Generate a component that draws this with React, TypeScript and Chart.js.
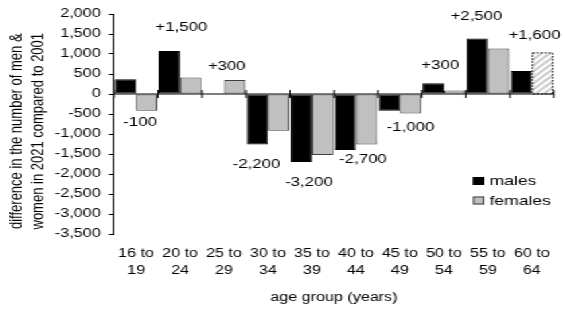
import React, { useEffect, useRef } from 'react';
import { Chart, registerables } from 'chart.js';

Chart.register(...registerables);

// ---- data ----
const categories: string[][] = [
  ['16 to', '19'], ['20 to', '24'], ['25 to', '29'], ['30 to', '34'], ['35 to', '39'],
  ['40 to', '44'], ['45 to', '49'], ['50 to', '54'], ['55 to', '59'], ['60 to', '64'],
];
const males = [370, 1075, 0, -1260, -1700, -1400, -420, 270, 1390, 575];
const females = [-420, 410, 350, -920, -1525, -1260, -485, 90, 1140, 1040];
const projectedFemaleIndex = 9;

const yMin = -3500;
const yMax = 2000;
const yStep = 500;

const changeLabels = ['-100', '+1,500', '+300', '-2,200', '-3,200', '-2,700', '-1,000', '+300', '+2,500', '+1,600'];
const changeLabelCategory = [0.09, 1.03, 2.06, 2.74, 3.93, 5.16, 6.24, 6.92, 7.74, 9.06];
const changeLabelValue = [-725, 1662, 675, -1767, -2225, -1650, -837, 712, 1925, 1450];

const PAD = '\u00a0'.repeat(4);
const yTitle = ['difference in the number of men &' + PAD, 'women in 2021 compared to 2001' + PAD];
const xTitle = 'age group (years)';
const legendItems = ['males', 'females'];

// ---- style ----
const FONT = '"Liberation Sans", Arial, Helvetica, sans-serif';
const LOGICAL_W = 420;
const H = 310;
const STRETCH = 565 / LOGICAL_W;
const MALE_FILL = '#000000';
const FEMALE_FILL = '#c0c0c0';
const FEMALE_BORDER = '#404040';

function makeHatch(): CanvasPattern | string {
  const s = 6;
  const c = document.createElement('canvas');
  c.width = s;
  c.height = s;
  const g = c.getContext('2d');
  if (!g) return '#dddddd';
  g.fillStyle = '#ffffff';
  g.fillRect(0, 0, s, s);
  g.strokeStyle = '#cdcdcd';
  g.lineWidth = 2.2;
  g.beginPath();
  g.moveTo(-1, s + 1); g.lineTo(s + 1, -1);
  g.moveTo(-1, 1); g.lineTo(1, -1);
  g.moveTo(s - 1, s + 1); g.lineTo(s + 1, s - 1);
  g.stroke();
  return g.createPattern(c, 'repeat') || '#dddddd';
}

const overlayPlugin = {
  id: 'overlay',
  afterDatasetsDraw(chart: any) {
    const { ctx, scales } = chart;
    const x = scales.x;
    const y = scales.y;
    ctx.save();

    // zero line + category boundary ticks crossing it
    const y0 = y.getPixelForValue(0);
    ctx.strokeStyle = '#000';
    ctx.lineWidth = 1;
    ctx.beginPath();
    ctx.moveTo(chart.chartArea.left, y0);
    ctx.lineTo(chart.chartArea.right, y0);
    ctx.stroke();
    for (let i = 0; i <= categories.length; i++) {
      const px = x.getPixelForValue(i - 0.5);
      ctx.beginPath();
      ctx.moveTo(px, y0 - 4);
      ctx.lineTo(px, y0 + 4);
      ctx.stroke();
    }

    // dotted outline of projected bar
    const el: any = chart.getDatasetMeta(1).data[projectedFemaleIndex];
    if (el) {
      const p = el.getProps(['x', 'y', 'base', 'width'], true);
      const l = p.x - p.width / 2;
      const top = Math.min(p.y, p.base);
      const h = Math.abs(p.base - p.y);
      ctx.setLineDash([1.5, 1.5]);
      ctx.strokeStyle = '#000';
      ctx.strokeRect(l + 0.5, top + 0.5, p.width - 1, h);
      ctx.setLineDash([]);
    }

    // change annotations
    ctx.fillStyle = '#000';
    ctx.font = `12.5px ${FONT}`;
    ctx.textAlign = 'center';
    ctx.textBaseline = 'middle';
    changeLabels.forEach((t, i) => {
      ctx.fillText(t, x.getPixelForValue(changeLabelCategory[i]), y.getPixelForValue(changeLabelValue[i]));
    });

    // legend
    const lx = 351.5;
    const ly = [181, 200.5];
    ctx.font = `13px ${FONT}`;
    ctx.textAlign = 'left';
    legendItems.forEach((t, i) => {
      ctx.fillStyle = i === 0 ? MALE_FILL : FEMALE_FILL;
      ctx.strokeStyle = i === 0 ? '#000' : FEMALE_BORDER;
      ctx.fillRect(lx, ly[i] - 4, 8.5, 8);
      ctx.strokeRect(lx + 0.5, ly[i] - 3.5, 7.5, 7);
      ctx.fillStyle = '#000';
      ctx.fillText(t, lx + 12.5, ly[i] + 0.5);
    });

    ctx.restore();
  },
};

export default function App() {
  const ref = useRef<HTMLCanvasElement | null>(null);

  useEffect(() => {
    if (!ref.current) return;
    const hatch = makeHatch();
    const femaleBg = females.map((_, i) => (i === projectedFemaleIndex ? hatch : FEMALE_FILL));
    const femaleBw = females.map((_, i) => (i === projectedFemaleIndex ? 0 : 1));

    const chart = new Chart(ref.current, {
      type: 'bar',
      data: {
        labels: categories,
        datasets: [
          {
            label: 'males',
            data: males,
            backgroundColor: MALE_FILL,
            borderColor: '#000',
            borderWidth: 1,
            borderSkipped: false,
            categoryPercentage: 0.97,
            barPercentage: 1,
          },
          {
            label: 'females',
            data: females,
            backgroundColor: femaleBg as any,
            borderColor: FEMALE_BORDER,
            borderWidth: femaleBw,
            borderSkipped: false,
            categoryPercentage: 0.97,
            barPercentage: 1,
          },
        ],
      },
      options: {
        responsive: false,
        animation: false,
        devicePixelRatio: 1,
        layout: { padding: { top: 14, right: 6, bottom: 0, left: 0 } },
        plugins: {
          legend: { display: false },
          tooltip: { enabled: false },
          title: { display: false },
        },
        scales: {
          x: {
            type: 'category',
            grid: { display: false, drawTicks: false },
            border: { display: false },
            ticks: {
              color: '#000',
              font: { family: FONT, size: 12, lineHeight: 1.4 },
              padding: 11,
              maxRotation: 0,
              minRotation: 0,
              autoSkip: false,
            },
            title: {
              display: true,
              text: xTitle,
              color: '#000',
              font: { family: FONT, size: 12, lineHeight: 1.2 },
              padding: { top: 4, bottom: 5 },
            },
            afterFit: (s: any) => { s.height = 76; },
          },
          y: {
            min: yMin,
            max: yMax,
            grid: {
              display: true,
              drawOnChartArea: false,
              drawTicks: true,
              tickLength: 4,
              color: '#000',
              tickColor: '#000',
            },
            border: { display: true, color: '#000', width: 1 },
            ticks: {
              stepSize: yStep,
              color: '#000',
              padding: 6,
              font: { family: FONT, size: 12 },
              callback: (v: any) => Number(v).toLocaleString('en-US'),
            },
            title: {
              display: true,
              text: yTitle,
              color: '#000',
              font: { family: FONT, size: 13, lineHeight: 1.18 },
              padding: { top: 5, bottom: 0 },
            },
            afterFit: (s: any) => { s.width = 84.8; },
          },
        },
      },
      plugins: [overlayPlugin],
    });
    return () => chart.destroy();
  }, []);

  return (
    <div
      style={{
        position: 'absolute',
        left: 0,
        top: 0,
        width: LOGICAL_W,
        height: H,
        transform: `scaleX(${STRETCH})`,
        transformOrigin: '0 0',
        background: '#fff',
      }}
    >
      <canvas ref={ref} width={LOGICAL_W} height={H} style={{ width: LOGICAL_W, height: H, display: 'block' }} />
    </div>
  );
}
